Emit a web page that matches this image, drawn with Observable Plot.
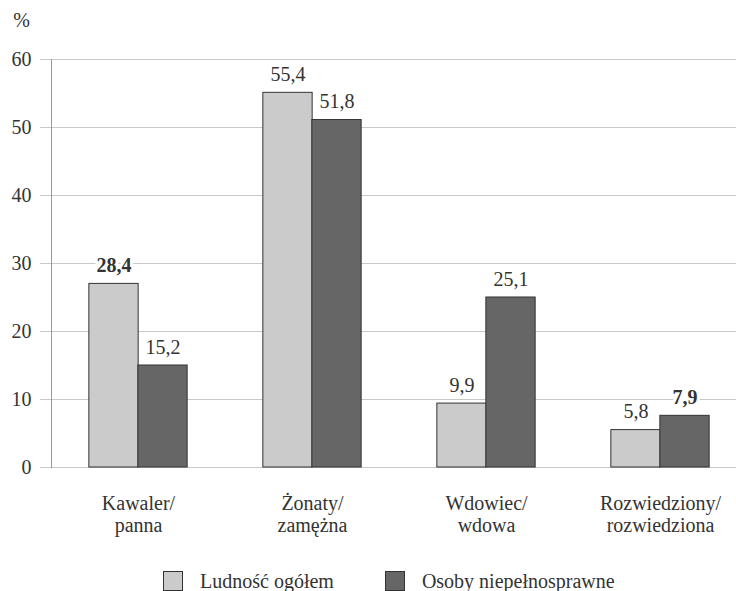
<!DOCTYPE html>
<html>
<head>
<meta charset="utf-8">
<script src="https://cdn.jsdelivr.net/npm/d3@7"></script>
<script src="https://cdn.jsdelivr.net/npm/@observablehq/plot@0.6"></script>
<style>
  html, body { margin: 0; padding: 0; background: white; }
  #chart { width: 736px; }
  .legend { display: flex; align-items: center; height: 20px; padding-top: 11px; padding-left: 163px;
            font-family: "Liberation Serif", "Times New Roman", serif; font-size: 20px; color: #333; }
  .sw { width: 18px; height: 18px; border: 1px solid #333; margin-right: 17px; }
  .item { display: flex; align-items: center; }
</style>
</head>
<body>
<div id="chart"></div>
<script>
const categories = ["Kawaler/\npanna", "Żonaty/\nzamężna", "Wdowiec/\nwdowa", "Rozwiedziony/\nrozwiedziona"];
const seriesNames = ["Ludność ogółem", "Osoby niepełnosprawne"];
const seriesColors = ["#cbcbcb", "#666666"];
// bar heights as drawn in the picture
const ludnoscBars = [27.0, 55.1, 9.4, 5.5];
const osobyBars = [15.0, 51.1, 25.0, 7.6];
// printed value labels
const ludnoscLabels = ["28,4", "55,4", "9,9", "5,8"];
const osobyLabels = ["15,2", "51,8", "25,1", "7,9"];
const boldLabels = ["28,4", "7,9"];
const yTicks = [0, 10, 20, 30, 40, 50, 60];

const rows = [];
categories.forEach((c, i) => {
  rows.push({category: c, series: seriesNames[0], value: ludnoscBars[i], label: ludnoscLabels[i]});
  rows.push({category: c, series: seriesNames[1], value: osobyBars[i], label: osobyLabels[i]});
});
const light = rows.filter(d => d.series === seriesNames[0]);
const dark = rows.filter(d => d.series === seriesNames[1]);

const textOpts = {x: "category", y: "value", text: "label", lineAnchor: "bottom", dy: -12,
  fill: "#333", stroke: "white", strokeWidth: 6, fontSize: 20};

const chart = Plot.plot({
  width: 736, height: 560,
  marginTop: 59, marginBottom: 93, marginLeft: 51, marginRight: -11,
  style: {fontFamily: "Liberation Serif, Times New Roman, serif", fontSize: "20px", color: "#333", background: "white"},
  x: {domain: categories, padding: 0, label: null},
  y: {domain: [0, 60], label: null, ticks: yTicks},
  marks: [
    Plot.gridY(yTicks, {stroke: "#c8c8c8", strokeOpacity: 1}),
    Plot.axisY(yTicks, {tickSize: 11, tickPadding: 9, stroke: "#c8c8c8", fill: "#333", strokeOpacity: 1, fontSize: 20, label: null}),
    Plot.frame({anchor: "left", stroke: "#999"}),
    Plot.barY(light, {x: "category", y: "value", fill: seriesColors[0], stroke: "#333", insetLeft: 37.85, insetRight: 86.85}),
    Plot.barY(dark, {x: "category", y: "value", fill: seriesColors[1], stroke: "#333", insetLeft: 86.85, insetRight: 37.85}),
    Plot.text(light.filter(d => !boldLabels.includes(d.label)), {...textOpts, dx: -24.5}),
    Plot.text(light.filter(d => boldLabels.includes(d.label)), {...textOpts, dx: -24.5, fontWeight: "bold"}),
    Plot.text(dark.filter(d => !boldLabels.includes(d.label)), {...textOpts, dx: 24.5}),
    Plot.text(dark.filter(d => boldLabels.includes(d.label)), {...textOpts, dx: 24.5, fontWeight: "bold"}),
    Plot.text(["%"], {frameAnchor: "top-left", dx: -30, dy: -47, fontSize: 20, fill: "#333", textAnchor: "middle"}),
    Plot.axisX({tickSize: 0, tickPadding: 27, fontSize: 20, lineHeight: 1.1, fill: "#333", label: null})
  ]
});
const root = document.getElementById("chart");
root.appendChild(chart);

const legend = document.createElement("div");
legend.className = "legend";
seriesNames.forEach((name, i) => {
  const item = document.createElement("div");
  item.className = "item";
  if (i > 0) item.style.marginLeft = "51px";
  const sw = document.createElement("div");
  sw.className = "sw";
  sw.style.background = seriesColors[i];
  const t = document.createElement("span");
  t.textContent = name;
  item.appendChild(sw);
  item.appendChild(t);
  legend.appendChild(item);
});
root.appendChild(legend);
</script>
</body>
</html>
